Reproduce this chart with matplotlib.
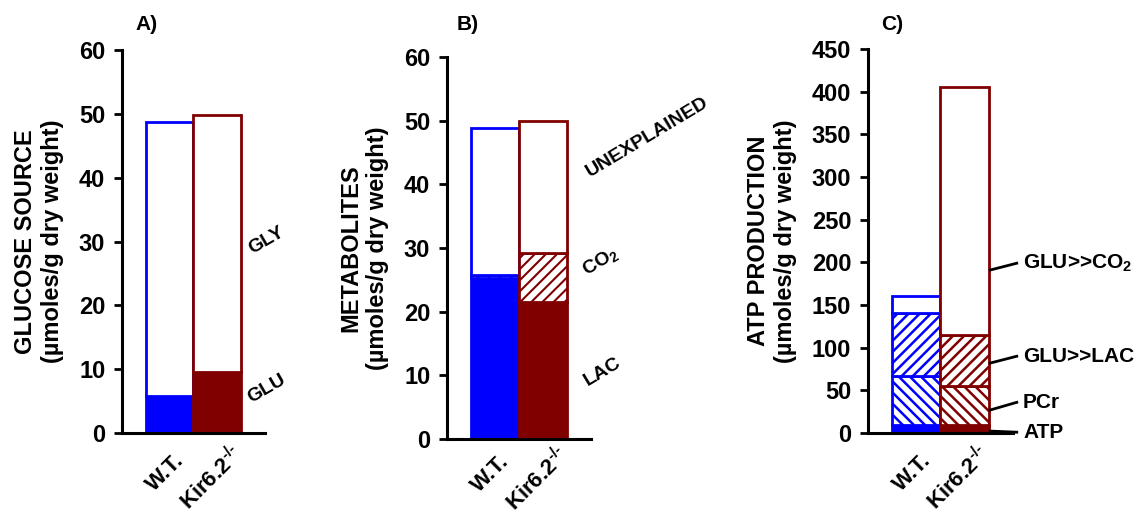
import matplotlib.pyplot as plt
from matplotlib.transforms import ScaledTranslation

plt.rcParams['font.family'] = ['Liberation Sans', 'DejaVu Sans']
plt.rcParams['font.weight'] = 'bold'
plt.rcParams['mathtext.fontset'] = 'custom'
plt.rcParams['mathtext.rm'] = 'Liberation Sans:bold'
plt.rcParams['mathtext.it'] = 'Liberation Sans:bold'
plt.rcParams['mathtext.bf'] = 'Liberation Sans:bold'

groups = ['W.T.', r'Kir6.2$^{\text{-/-}}$']
colors = ['#0000ff', '#800000']

# A) glucose source
glu_a = [5.8, 9.6]
gly_a = [43.0, 40.2]

# B) metabolites
lac_b = [25.3, 21.5]
co2_b = [0.5, 7.7]
unexpl_b = [23.0, 20.8]

# C) ATP production
atp_c = [10, 10]
pcr_c = [57, 45]
glulac_c = [74, 60]
gluco2_c = [19, 290]

fig = plt.figure(figsize=(11.44, 5.18), dpi=100)
axA = fig.add_axes([0.1066, 0.164, 0.125, 0.7394])
axB = fig.add_axes([0.3907, 0.1525, 0.1259, 0.7375])
axC = fig.add_axes([0.7587, 0.164, 0.1267, 0.7414])

x = [1, 2]
lw = 2
# per-label shift of the rotated group names (inches)
label_shift = [(0.15, -0.03), (0.27, 0.02)]


def stack(ax, segs):
    # segs: list of (values, style) with style 'fill', 'white' or a hatch
    for i in range(2):
        bottom = 0
        for vals, style in segs:
            c = colors[i]
            if style == 'fill':
                ax.bar(x[i], vals[i], 1.0, bottom=bottom, color=c, edgecolor=c, linewidth=lw)
            elif style == 'white':
                ax.bar(x[i], vals[i], 1.0, bottom=bottom, facecolor='white', edgecolor=c, linewidth=lw)
            else:
                ax.bar(x[i], vals[i], 1.0, bottom=bottom, facecolor='white', edgecolor=c,
                       linewidth=lw, hatch=style)
            bottom += vals[i]


def style_axis(ax, ymax, step, ylabel, lift=0.0):
    ax.set_xlim(0, 3)
    ax.set_ylim(0, ymax)
    ax.set_yticks(range(0, ymax + 1, step))
    for s in ['top', 'right']:
        ax.spines[s].set_visible(False)
    for s in ['left', 'bottom']:
        ax.spines[s].set_linewidth(2.2)
    ax.tick_params(axis='y', length=6, width=2, labelsize=17, pad=6)
    ax.tick_params(axis='x', length=0, labelsize=16, pad=18)
    ax.set_xticks(x)
    ax.set_xticklabels(groups, rotation=45, ha='right', va='baseline', rotation_mode='anchor')
    for lab, (dx, dy) in zip(ax.get_xticklabels(), label_shift):
        lab.set_transform(lab.get_transform() + ScaledTranslation(dx, dy + lift, fig.dpi_scale_trans))
    ax.set_ylabel(ylabel, fontsize=17, fontweight='bold', labelpad=11)


plt.rcParams['hatch.linewidth'] = 1.5
stack(axA, [(glu_a, 'fill'), (gly_a, 'white')])
style_axis(axA, 60, 10, 'GLUCOSE SOURCE\n(µmoles/g dry weight)')
axA.text(3.04, 30.2, 'GLY', rotation=30, fontsize=14, ha='center', va='center', clip_on=False)
axA.text(3.04, 7.0, 'GLU', rotation=30, fontsize=14, ha='center', va='center', clip_on=False)
axA.text(0.175, 1.052, 'A)', transform=axA.transAxes, fontsize=15, ha='center', va='baseline')

stack(axB, [(lac_b, 'fill'), (co2_b, '///'), (unexpl_b, 'white')])
style_axis(axB, 60, 10, 'METABOLITES\n(µmoles/g dry weight)', lift=0.05)
axB.text(4.17, 47.4, 'UNEXPLAINED', rotation=31, fontsize=14, ha='center', va='center', clip_on=False)
axB.text(3.2, 27.9, 'CO$_2$', rotation=31, fontsize=14, ha='center', va='center', clip_on=False)
axB.text(3.25, 10.5, 'LAC', rotation=31, fontsize=14, ha='center', va='center', clip_on=False)
axB.text(0.146, 1.07, 'B)', transform=axB.transAxes, fontsize=15, ha='center', va='baseline')

plt.rcParams['hatch.linewidth'] = 1.8
stack(axC, [(atp_c, 'fill'), (pcr_c, '\\\\\\'), (glulac_c, '///'), (gluco2_c, 'white')])
style_axis(axC, 450, 50, 'ATP PRODUCTION\n(µmoles/g dry weight)')
labels_c = ['GLU>>CO$_2$', 'GLU>>LAC', 'PCr', 'ATP']
label_y = [199, 90, 36, 1]
line_y0 = [191, 82, 27, 2.3]
for lab, ty, y0 in zip(labels_c, label_y, line_y0):
    axC.plot([2.53, 3.08], [y0, ty], color='black', lw=2, clip_on=False)
    axC.text(3.21, ty, lab, fontsize=15, ha='left', va='center', clip_on=False)
axC.text(0.17, 1.05, 'C)', transform=axC.transAxes, fontsize=15, ha='center', va='baseline')

fig.savefig('out.png', dpi=100)
